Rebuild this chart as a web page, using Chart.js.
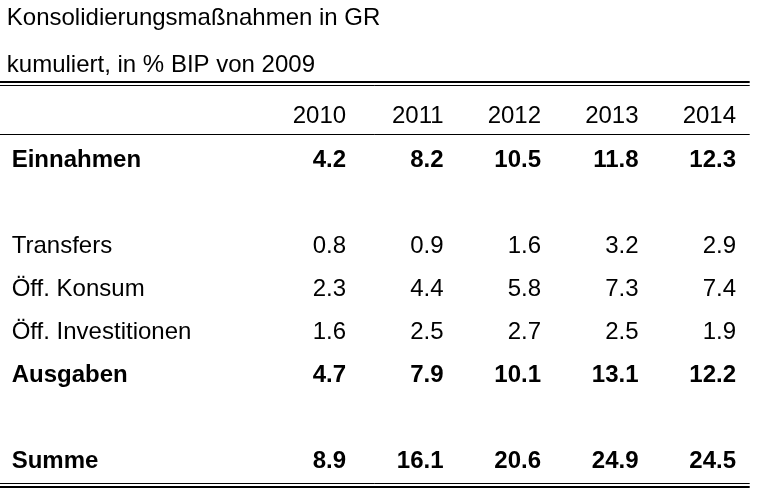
<!DOCTYPE html>
<html>
<head>
<meta charset="utf-8">
<script src="https://cdn.jsdelivr.net/npm/chart.js@4"></script>
<style>body{margin:0;background:#fff}</style>
</head>
<body>
<canvas id="chart" width="757" height="498"></canvas>
<script>
const titleLines = ['Konsolidierungsmaßnahmen in GR', 'kumuliert, in % BIP von 2009'];
const years = ['2010', '2011', '2012', '2013', '2014'];
const rowLabels = ['Einnahmen', '', 'Transfers', 'Öff. Konsum', 'Öff. Investitionen', 'Ausgaben', '', 'Summe'];
const boldRows = [true, false, false, false, false, true, false, true];
const einnahmen = [4.2, 8.2, 10.5, 11.8, 12.3];
const transfers = [0.8, 0.9, 1.6, 3.2, 2.9];
const konsum = [2.3, 4.4, 5.8, 7.3, 7.4];
const investitionen = [1.6, 2.5, 2.7, 2.5, 1.9];
const ausgaben = [4.7, 7.9, 10.1, 13.1, 12.2];
const summe = [8.9, 16.1, 20.6, 24.9, 24.5];
const rowValues = [einnahmen, null, transfers, konsum, investitionen, ausgaben, null, summe];

const tablePlugin = {
    id: 'table',
    afterDraw(chart) {
        const c = chart.ctx;
        const x = chart.scales.x, y = chart.scales.y;
        const font = (b) => (b ? 'bold ' : '') + '24px "Liberation Sans", Arial, sans-serif';
        c.save();
        c.fillStyle = '#000';
        c.textBaseline = 'middle';
        // title
        c.font = font(false);
        c.textAlign = 'left';
        c.fillText(titleLines[0], x.getPixelForValue(-2.48), y.getPixelForValue(-2.28));
        c.fillText(titleLines[1], x.getPixelForValue(-2.48), y.getPixelForValue(-1.2));
        // rules
        const hline = (row, w) => {
            const py = Math.round(y.getPixelForValue(row)) + (w % 2 ? 0.5 : 0);
            c.lineWidth = w;
            c.beginPath();
            c.moveTo(x.getPixelForValue(-2.55), py);
            c.lineTo(x.getPixelForValue(5.14), py);
            c.stroke();
        };
        hline(-0.81, 2); hline(-0.73, 1);
        hline(0.39, 1);
        hline(8.49, 1); hline(8.59, 2);
        // header
        c.textAlign = 'right';
        years.forEach((yr, i) => c.fillText(yr, x.getPixelForValue(i + 1), y.getPixelForValue(0)));
        // rows
        rowLabels.forEach((lab, r) => {
            if (!lab) return;
            c.font = font(boldRows[r]);
            c.textAlign = 'left';
            c.fillText(lab, x.getPixelForValue(-2.43), y.getPixelForValue(r + 1));
            c.textAlign = 'right';
            rowValues[r].forEach((v, i) => c.fillText(v.toFixed(1), x.getPixelForValue(i + 1), y.getPixelForValue(r + 1)));
        });
        c.restore();
    }
};

new Chart(document.getElementById('chart'), {
    type: 'scatter',
    data: { datasets: [{ data: [] }] },
    options: {
        responsive: false,
        animation: false,
        layout: { padding: 0 },
        plugins: { legend: { display: false }, tooltip: { enabled: false } },
        scales: {
            x: { type: 'linear', min: -2.55, max: 5.215, display: false },
            y: { type: 'linear', min: -2.71, max: 8.84, reverse: true, display: false }
        }
    },
    plugins: [tablePlugin]
});
</script>
</body>
</html>
